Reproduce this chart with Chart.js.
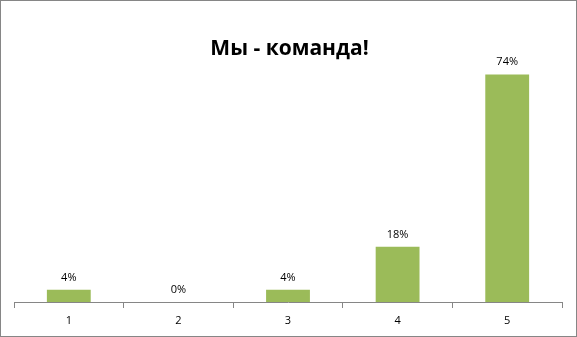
<!DOCTYPE html>
<html>
<head>
<meta charset="utf-8">
<script src="https://cdn.jsdelivr.net/npm/chart.js@4/dist/chart.umd.min.js"></script>
<style>
  html, body { margin: 0; padding: 0; background: #fff; }
  #wrap { width: 577px; height: 337px; position: relative; }
</style>
</head>
<body>
<div id="wrap"><canvas id="c" width="577" height="337"></canvas></div>
<script>
// Survey result: share of answers for each score
const chartTitle = 'Мы - команда!';
const categories = ['1', '2', '3', '4', '5'];
const percentValues = [4, 0, 4, 18, 74];
const axisMax = 80;

const FONT = '"Open Sans", "DejaVu Sans", sans-serif';

// Value labels above each bar
const valueLabels = {
  id: 'valueLabels',
  afterDatasetsDraw(chart) {
    const ctx = chart.ctx;
    const meta = chart.getDatasetMeta(0);
    ctx.save();
    ctx.font = '11px ' + FONT;
    ctx.fillStyle = '#000';
    ctx.textAlign = 'center';
    ctx.textBaseline = 'alphabetic';
    meta.data.forEach((bar, i) => {
      ctx.fillText(percentValues[i] + '%', bar.x, bar.y - 9);
    });
    ctx.restore();
  }
};

// Heading and outer frame
const frameAndTitle = {
  id: 'frameAndTitle',
  afterDraw(chart) {
    const ctx = chart.ctx;
    ctx.save();
    ctx.font = 'bold 21px ' + FONT;
    ctx.fillStyle = '#000';
    ctx.textAlign = 'center';
    ctx.textBaseline = 'middle';
    ctx.fillText(chartTitle, chart.width / 2 + 1, 49);
    ctx.strokeStyle = '#868686';
    ctx.lineWidth = 1;
    ctx.strokeRect(0.5, 0.5, chart.width - 1, chart.height - 1);
    ctx.restore();
  }
};

new Chart(document.getElementById('c'), {
  type: 'bar',
  data: {
    labels: categories,
    datasets: [{
      data: percentValues,
      backgroundColor: '#9BBB59',
      borderWidth: 0,
      barPercentage: 0.4,
      categoryPercentage: 1.0
    }]
  },
  options: {
    responsive: false,
    animation: false,
    layout: { padding: { left: 14, right: 15, top: 56, bottom: 0 } },
    plugins: {
      legend: { display: false },
      title: { display: false },
      tooltip: { enabled: false }
    },
    scales: {
      y: { display: false, min: 0, max: axisMax },
      x: {
        offset: true,
        afterFit(scale) { scale.height = 35; },
        grid: {
          offset: true,
          drawOnChartArea: false,
          drawTicks: true,
          tickLength: 6,
          color: '#868686'
        },
        border: { display: true, color: '#868686', width: 1 },
        ticks: {
          color: '#000',
          padding: 6,
          font: { family: FONT, size: 11 }
        }
      }
    }
  },
  plugins: [valueLabels, frameAndTitle]
});
</script>
</body>
</html>
